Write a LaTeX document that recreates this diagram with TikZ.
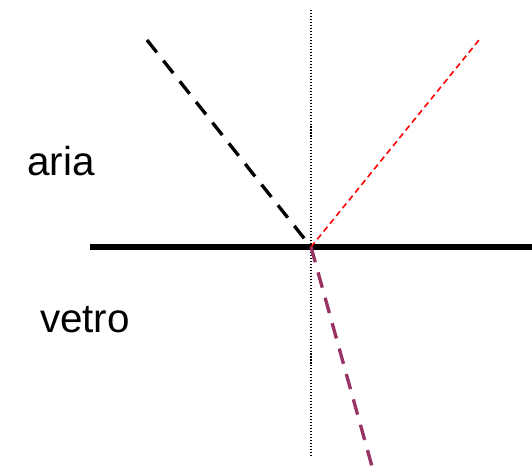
\documentclass[tikz,border=0pt]{standalone}
\usepackage{fontspec}
\setmainfont{Liberation Sans}
\usetikzlibrary{positioning}
\definecolor{cRay}{RGB}{153,51,102}
\tikzset{
	surface/.style  ={line width=3.2pt, black},
	normal/.style   ={line width=0.6pt, black, dash pattern=on 0.6pt off 1.1pt},
	incident/.style ={line width=1.9pt, black, dash pattern=on 9pt off 6pt},
	reflected/.style={line width=0.9pt, red, dash pattern=on 3.4pt off 2.3pt},
	refracted/.style={line width=1.9pt, cRay, dash pattern=on 9pt off 6pt},
	medium/.style   ={font=\fontsize{23}{28}\selectfont, anchor=base, inner sep=0pt},
}
\begin{document}
\begin{tikzpicture}[x=0.02cm, y=-0.02cm]
	\useasboundingbox (0,0) rectangle (532,468);
	% points of the construction
	\coordinate (o) at (311,247);
	\coordinate (sl) at (90,247);
	\coordinate (sr) at (532,247);
	\coordinate (nt) at (311,10);
	\coordinate (nb) at (311,456);
	\coordinate (src) at (147,40);
	\coordinate (rfl) at (479,40);
	\coordinate (rfr) at (373,470);
	\draw[normal] (nt) -- (nb);
	\draw[surface] (sl) -- (sr);
	\draw[incident] (src) -- (o);
	\draw[reflected] (o) -- (rfl);
	\draw[refracted] (o) -- (rfr);
	\node[medium] (air) at (61,175) {aria};
	\node[medium] (glass) at (85,332) {vetro};
\end{tikzpicture}
\end{document}
